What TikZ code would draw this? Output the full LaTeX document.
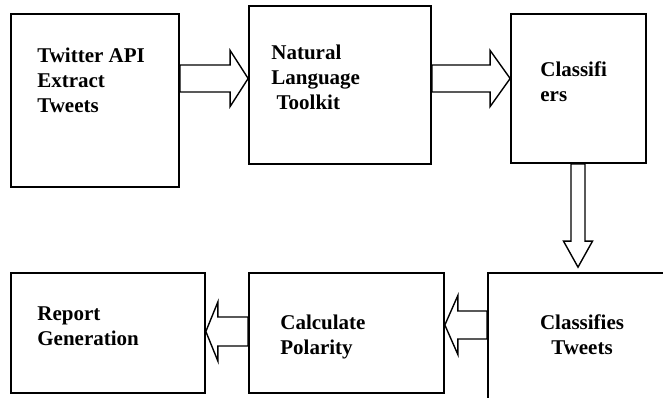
\documentclass[tikz,border=0pt]{standalone}
\usepackage{fontspec}
\setmainfont{Liberation Serif}
\usepackage{tikz}
\usetikzlibrary{calc}
\tikzstyle{box} = [draw, line width=1.7pt, inner sep=0pt]
\tikzstyle{lbl} = [inner sep=0pt, align=left, anchor=base west, font=\bfseries\fontsize{21}{25}\selectfont]
\tikzstyle{blockarrow} = [draw, line width=1.4pt, fill=white, line join=miter]

% horizontal block arrow: from, to, y, head length, shaft half width, head half width
\newcommand{\hblock}[6]{%
  \draw[blockarrow] let \p1=(#1), \p2=(#2) in
    (\x1,#3+#5) -- (\x2-#4,#3+#5) -- (\x2-#4,#3+#6) -- (\x2,#3)
    -- (\x2-#4,#3-#6) -- (\x2-#4,#3-#5) -- (\x1,#3-#5) -- cycle;}
% vertical block arrow: from, to, x, head length, shaft half width, head half width
\newcommand{\vblock}[6]{%
  \draw[blockarrow] let \p1=(#1), \p2=(#2) in
    (#3-#5,\y1) -- (#3-#5,\y2+#4) -- (#3-#6,\y2+#4) -- (#3,\y2)
    -- (#3+#6,\y2+#4) -- (#3+#5,\y2+#4) -- (#3+#5,\y1) -- cycle;}

\begin{document}
\begin{tikzpicture}[x=1pt, y=1pt]
    \useasboundingbox (0,0) rectangle (663,398);
    \clip (0,0) rectangle (663,398);

    % top row
    \node[box, minimum width=168, minimum height=173] (tw) at (95,297.5) {};
    \node[box, minimum width=182, minimum height=158] (nlt) at (340,313) {};
    \node[box, minimum width=135, minimum height=149] (cls) at (578.5,309.5) {};
    % bottom row
    \node[box, minimum width=194, minimum height=120] (rg) at (108,65) {};
    \node[box, minimum width=195, minimum height=120] (cp) at (346.5,65) {};
    \node[box, minimum width=188, minimum height=147] (ctw) at (582,51.5) {};

    % labels (anchored at the baseline of their last line)
    \node[lbl] (twt) at ($(tw.north west)+(27,-99)$) {Twitter API\\Extract\\Tweets};
    \node[lbl] (nltt) at ($(nlt.north west)+(23,-104)$) {Natural\\Language\\\ Toolkit};
    \node[lbl] (clst) at ($(cls.north west)+(30,-88)$) {Classifi\\ers};
    \node[lbl] (rgt) at ($(rg.north west)+(27,-73)$) {Report\\Generation};
    \node[lbl] (cpt) at ($(cp.north west)+(32,-82)$) {Calculate\\Polarity};
    \node[lbl, align=center, anchor=base] (ctwt) at ($(ctw.north)+(0,-82)$) {Classifies\\Tweets};

    % block arrows
    \hblock{tw.east}{nlt.west}{319.5pt}{18pt}{13.5pt}{28pt}
    \hblock{nlt.east}{cls.west}{319.5pt}{20pt}{13.5pt}{28pt}
    \vblock{cls.south}{$(ctw.north)+(0,5)$}{578pt}{26pt}{7pt}{14.5pt}
    \hblock{ctw.west}{cp.east}{73pt}{-13pt}{14pt}{29.5pt}
    \hblock{cp.west}{rg.east}{66.5pt}{-12pt}{14.5pt}{29.5pt}
\end{tikzpicture}
\end{document}
